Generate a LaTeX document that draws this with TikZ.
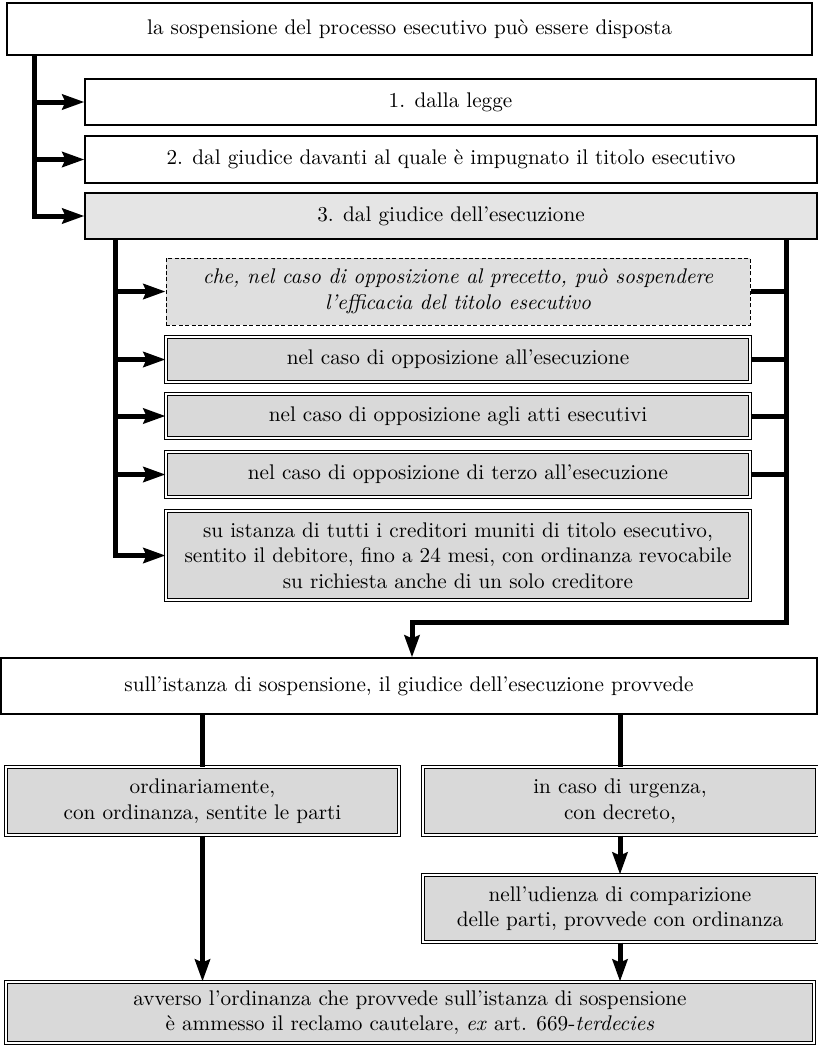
\documentclass[tikz,border=0pt]{standalone}
\usepackage{fontspec}
\usetikzlibrary{arrows.meta}
\begin{document}
\begin{tikzpicture}[x=0.5pt,y=-0.5pt,
 every node/.style={font=\fontsize{10.6}{12.8}\selectfont, align=center, inner sep=0pt},
 sz/.style 2 args={minimum width={#1*0.5pt}, minimum height={#2*0.5pt}},
 plainbox/.style={draw, line width=0.6pt, fill=white},
 greybox/.style={draw, line width=0.6pt, fill=gray!20},
 dblbox/.style={draw, line width=0.5pt, double=white, double distance=1.1pt, fill=gray!30},
 dashbox/.style={draw, dash pattern=on 2pt off 1.2pt, line width=0.5pt, fill=gray!25},
 conn/.style={line width=2.5pt},
 arr/.style={conn, -{Stealth[length=11pt,width=7.5pt,inset=1.5pt]}}]
\useasboundingbox (0,0) rectangle (818,1046);

\node[plainbox, sz={805}{52}] (top) at (409.5,29) {la sospensione del processo esecutivo può essere disposta};
\node[plainbox, sz={731}{46}] (b1) at (450.5,102) {1. dalla legge};
\node[plainbox, sz={732}{47}] (b2) at (451,159.5) {2. dal giudice davanti al quale è impugnato il titolo esecutivo};
\node[greybox, sz={732}{46}] (b3) at (451,216) {3. dal giudice dell'esecuzione};

\node[dashbox, sz={584}{67}] (c1) at (458,291.5) {\itshape che, nel caso di opposizione al precetto, può sospendere\\ \itshape l'efficacia del titolo esecutivo};
\node[dblbox, sz={584}{45}] (c2) at (458,359.5) {nel caso di opposizione all'esecuzione};
\node[dblbox, sz={584}{44}] (c3) at (458,416) {nel caso di opposizione agli atti esecutivi};
\node[dblbox, sz={584}{45}] (c4) at (458,474.5) {nel caso di opposizione di terzo all'esecuzione};
\node[dblbox, sz={584}{89}] (c5) at (458,555.5) {su istanza di tutti i creditori muniti di titolo esecutivo,\\ sentito il debitore, fino a 24 mesi, con ordinanza revocabile\\ su richiesta anche di un solo creditore};

\node[plainbox, sz={816}{56}] (s) at (409,686) {sull'istanza di sospensione, il giudice dell'esecuzione provvede};

\node[dblbox, sz={393}{68}] (o) at (202.5,801) {ordinariamente,\\ con ordinanza, sentite le parti};
\node[dblbox, sz={394}{68}] (u) at (620,801) {in caso di urgenza,\\ con decreto,};
\node[dblbox, sz={394}{67}] (n) at (620,908.5) {nell'udienza di comparizione\\ delle parti, provvede con ordinanza};
\node[dblbox, sz={808}{61}] (f) at (410,1012.5) {avverso l'ordinanza che provvede sull'istanza di sospensione\\ è ammesso il reclamo cautelare, \textit{ex} art. 669-\textit{terdecies}};

% left bar from top
\coordinate (L0) at (34,55);
\draw[arr] (L0) |- (b3.west);
\draw[arr] (L0 |- b1.west) -- (b1.west);
\draw[arr] (L0 |- b2.west) -- (b2.west);

% inner left bar
\coordinate (L1) at (115,239);
\draw[arr] (L1) |- (c5.west);
\draw[arr] (L1 |- c1.west) -- (c1.west);
\draw[arr] (L1 |- c2.west) -- (c2.west);
\draw[arr] (L1 |- c3.west) -- (c3.west);
\draw[arr] (L1 |- c4.west) -- (c4.west);

% right bar
\coordinate (R1) at (786,239);
\coordinate (R2) at (786,622);
\coordinate (R3) at (412,622);
\draw[conn] (c1.east) -- (R1 |- c1.east);
\draw[conn] (c2.east) -- (R1 |- c2.east);
\draw[conn] (c3.east) -- (R1 |- c3.east);
\draw[conn] (c4.east) -- (R1 |- c4.east);
\draw[arr] (R1) -- (R2) -- (R3) -- (R3 |- s.north);

% bottom
\draw[conn] (s.south -| o.north) -- (o.north);
\draw[conn] (s.south -| u.north) -- (u.north);
\draw[arr] (o.south) -- (f.north -| o.south);
\draw[arr] (u.south) -- (n.north);
\draw[arr] (n.south) -- (f.north -| n.south);
\end{tikzpicture}
\end{document}
